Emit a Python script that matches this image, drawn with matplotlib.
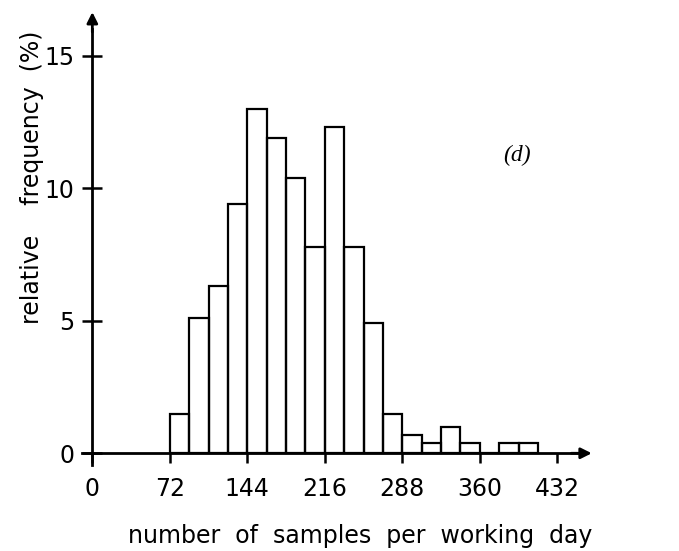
import numpy as np
import matplotlib
matplotlib.use("Agg")
import matplotlib.pyplot as plt

# histogram data (bin width 18 samples/day)
bin_edges = np.arange(72, 414 + 18, 18)
rel_freq = [1.5, 5.1, 6.3, 9.4, 13.0, 11.9, 10.4, 7.8, 12.3, 7.8, 4.9,
            1.5, 0.7, 0.4, 1.0, 0.4, 0.0, 0.4, 0.4]
x_ticks = [0, 72, 144, 216, 288, 360, 432]
y_ticks = [0, 5, 10, 15]

plt.rcParams['font.family'] = ['DejaVu Sans']

fig = plt.figure(figsize=(6.79, 5.51), dpi=100)
ax = fig.add_axes([0.1122, 0.1485, 0.7688, 0.8368])
ax.set_xlim(-15, 470)
ax.set_ylim(-0.6, 16.8)

ax.bar(bin_edges[:-1], rel_freq, width=18, align='edge', fill=False,
       edgecolor='black', linewidth=1.6, zorder=2)

# axes with arrows
for s in ['top', 'right']:
    ax.spines[s].set_visible(False)
ax.spines['left'].set_position(('data', 0))
ax.spines['bottom'].set_position(('data', 0))
ax.spines['left'].set_bounds(-0.45, 16.0)
ax.spines['bottom'].set_bounds(-10, 450)
ax.spines['left'].set_linewidth(2.0)
ax.spines['bottom'].set_linewidth(2.0)
ax.annotate('', xy=(464, 0), xytext=(445, 0),
            arrowprops=dict(arrowstyle='-|>', color='black', lw=2.0,
                            mutation_scale=16, shrinkA=0, shrinkB=0),
            annotation_clip=False)
ax.annotate('', xy=(0, 16.65), xytext=(0, 15.9),
            arrowprops=dict(arrowstyle='-|>', color='black', lw=2.0,
                            mutation_scale=16, shrinkA=0, shrinkB=0),
            annotation_clip=False)

ax.set_xticks(x_ticks)
ax.set_yticks(y_ticks)
ax.tick_params(axis='x', direction='out', length=7, width=1.8, pad=10,
               labelsize=17)
ax.tick_params(axis='y', direction='inout', length=14, width=1.8, pad=6,
               labelsize=17)

ax.set_xlabel('number  of  samples  per  working  day', fontsize=17)
ax.xaxis.set_label_coords(0.5437, -0.118)
ax.set_ylabel('relative    frequency  (%)', fontsize=17)
ax.yaxis.set_label_coords(-0.062, 0.632)

ax.text(0.8445, 0.681, '(d)', transform=ax.transAxes, fontsize=17,
        family='Liberation Serif', style='italic', ha='center', va='center')

fig.savefig('out.png', dpi=100, facecolor='white')
